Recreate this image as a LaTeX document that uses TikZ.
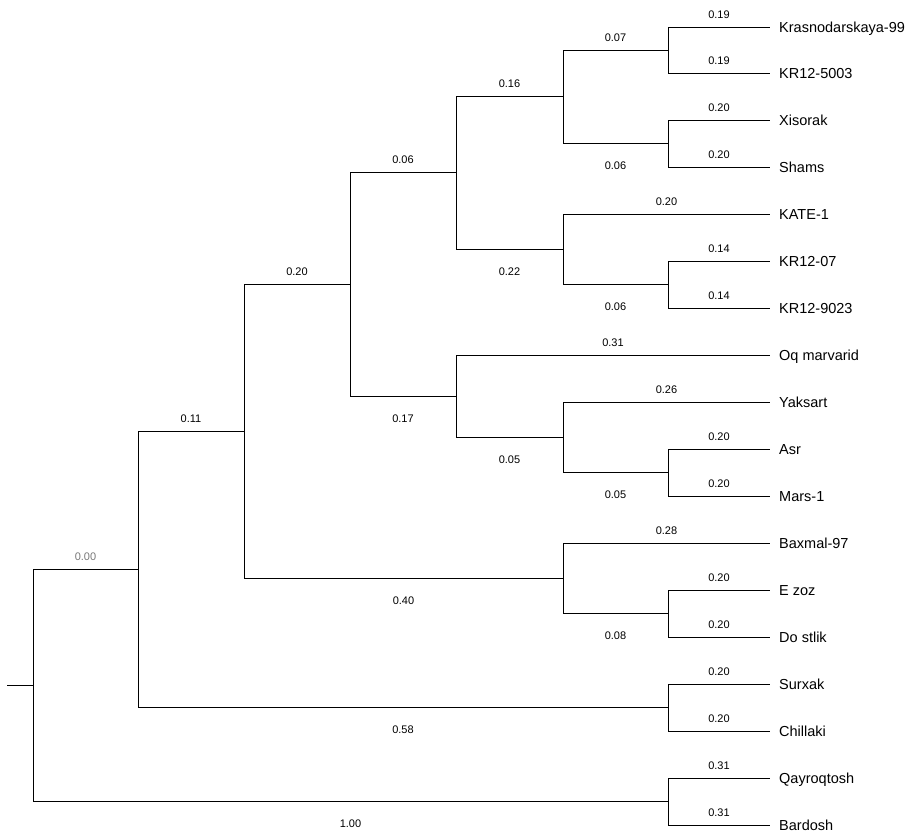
\documentclass[tikz,border=0pt]{standalone}
\usepackage{fontspec}
\setmainfont{Liberation Sans}
\definecolor{lblgray}{RGB}{120,120,120}
\begin{document}
\begin{tikzpicture}[x=1pt,y=-1pt,
  br/.style={line width=1pt,black},
  up/.style={pos=0.75,anchor=base,inner sep=0pt,yshift=8.5pt,font=\fontsize{11}{13}\selectfont},
  dn/.style={pos=0.75,anchor=base,inner sep=0pt,yshift=-26.3pt,font=\fontsize{11}{13}\selectfont},
  leafname/.style={anchor=base west,inner sep=0pt,xshift=9pt,yshift=-5.3pt,font=\fontsize{14.5}{17}\selectfont}]
\useasboundingbox (0,0) rectangle (920,833);
% internal nodes
\coordinate (stub) at (7,685);
\coordinate (R) at (33,685);
\coordinate (A) at (138,569);
\coordinate (B) at (244,431);
\coordinate (C) at (350,284);
\coordinate (D) at (456,172);
\coordinate (E) at (563,96);
\coordinate (F) at (668,50);
\coordinate (G) at (668,143);
\coordinate (H) at (563,249);
\coordinate (I) at (668,284);
\coordinate (J) at (456,396);
\coordinate (K) at (563,437);
\coordinate (L) at (668,472);
\coordinate (M) at (563,578);
\coordinate (N) at (668,613);
\coordinate (O) at (668,707);
\coordinate (P) at (668,801);
% leaves
\coordinate (l1) at (770,27);
\coordinate (l2) at (770,73);
\coordinate (l3) at (770,120);
\coordinate (l4) at (770,167);
\coordinate (l5) at (770,214);
\coordinate (l6) at (770,261);
\coordinate (l7) at (770,308);
\coordinate (l8) at (770,355);
\coordinate (l9) at (770,402);
\coordinate (l10) at (770,449);
\coordinate (l11) at (770,496);
\coordinate (l12) at (770,543);
\coordinate (l13) at (770,590);
\coordinate (l14) at (770,637);
\coordinate (l15) at (770,684);
\coordinate (l16) at (770,731);
\coordinate (l17) at (770,778);
\coordinate (l18) at (770,825);
% leaf names
\node[leafname] (n1) at (l1) {Krasnodarskaya-99};
\node[leafname] (n2) at (l2) {KR12-5003};
\node[leafname] (n3) at (l3) {Xisorak};
\node[leafname] (n4) at (l4) {Shams};
\node[leafname] (n5) at (l5) {KATE-1};
\node[leafname] (n6) at (l6) {KR12-07};
\node[leafname] (n7) at (l7) {KR12-9023};
\node[leafname] (n8) at (l8) {Oq marvarid};
\node[leafname] (n9) at (l9) {Yaksart};
\node[leafname] (n10) at (l10) {Asr};
\node[leafname] (n11) at (l11) {Mars-1};
\node[leafname] (n12) at (l12) {Baxmal-97};
\node[leafname] (n13) at (l13) {E zoz};
\node[leafname] (n14) at (l14) {Do stlik};
\node[leafname] (n15) at (l15) {Surxak};
\node[leafname] (n16) at (l16) {Chillaki};
\node[leafname] (n17) at (l17) {Qayroqtosh};
\node[leafname] (n18) at (l18) {Bardosh};
% branches
\draw[br] (stub) -- (R);
\draw[br] (R) |- (A) node[up,text=lblgray] {0.00};
\draw[br] (R) |- (P) node[dn] {1.00};
\draw[br] (A) |- (B) node[up] {0.11};
\draw[br] (A) |- (O) node[dn] {0.58};
\draw[br] (B) |- (C) node[up] {0.20};
\draw[br] (B) |- (M) node[dn] {0.40};
\draw[br] (C) |- (D) node[up] {0.06};
\draw[br] (C) |- (J) node[dn] {0.17};
\draw[br] (D) |- (E) node[up] {0.16};
\draw[br] (D) |- (H) node[dn] {0.22};
\draw[br] (E) |- (F) node[up] {0.07};
\draw[br] (E) |- (G) node[dn] {0.06};
\draw[br] (F) |- (l1) node[up] {0.19};
\draw[br] (F) |- (l2) node[up] {0.19};
\draw[br] (G) |- (l3) node[up] {0.20};
\draw[br] (G) |- (l4) node[up] {0.20};
\draw[br] (H) |- (l5) node[up] {0.20};
\draw[br] (H) |- (I) node[dn] {0.06};
\draw[br] (I) |- (l6) node[up] {0.14};
\draw[br] (I) |- (l7) node[up] {0.14};
\draw[br] (J) |- (l8) node[up] {0.31};
\draw[br] (J) |- (K) node[dn] {0.05};
\draw[br] (K) |- (l9) node[up] {0.26};
\draw[br] (K) |- (L) node[dn] {0.05};
\draw[br] (L) |- (l10) node[up] {0.20};
\draw[br] (L) |- (l11) node[up] {0.20};
\draw[br] (M) |- (l12) node[up] {0.28};
\draw[br] (M) |- (N) node[dn] {0.08};
\draw[br] (N) |- (l13) node[up] {0.20};
\draw[br] (N) |- (l14) node[up] {0.20};
\draw[br] (O) |- (l15) node[up] {0.20};
\draw[br] (O) |- (l16) node[up] {0.20};
\draw[br] (P) |- (l17) node[up] {0.31};
\draw[br] (P) |- (l18) node[up] {0.31};
\end{tikzpicture}
\end{document}
